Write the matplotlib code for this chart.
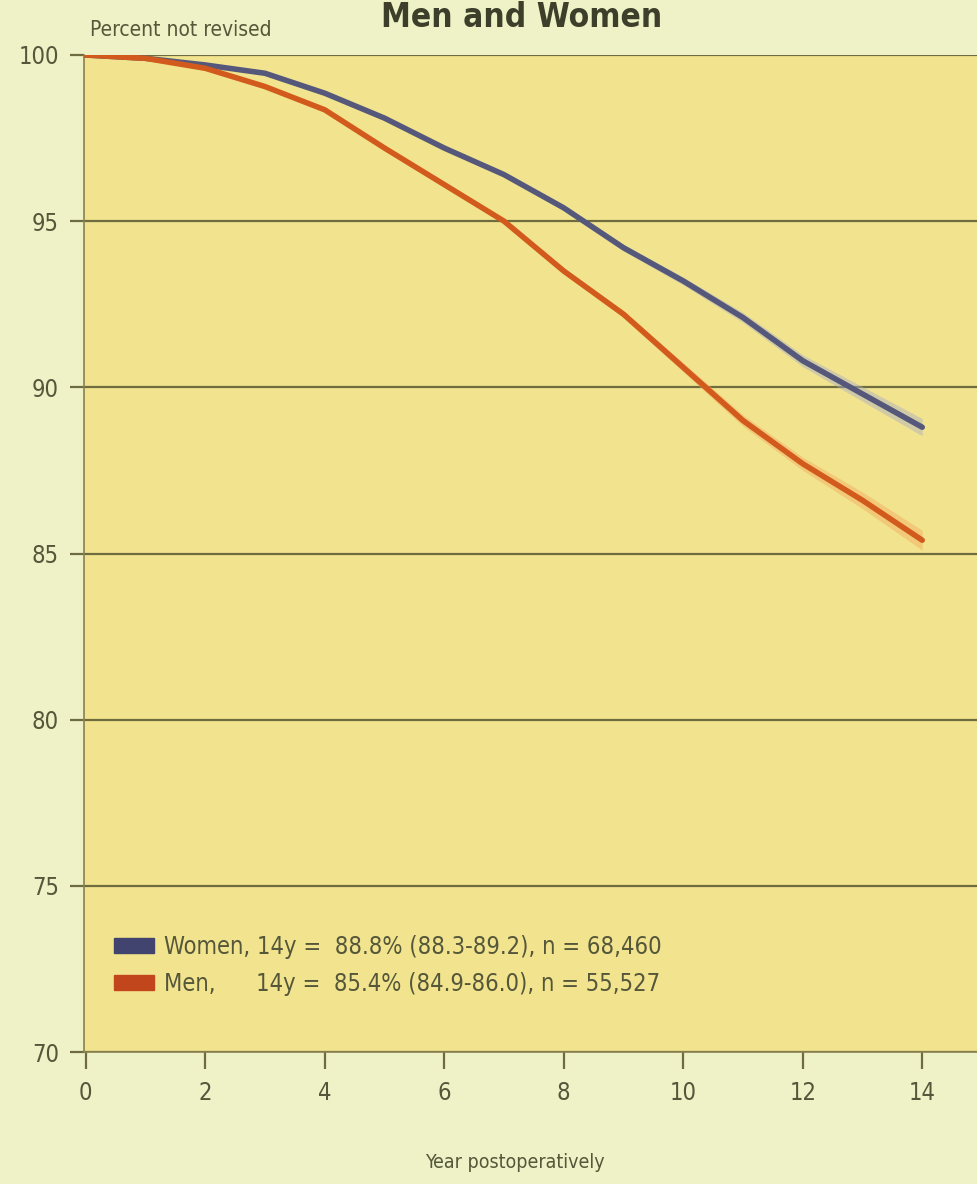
import matplotlib.pyplot as plt
import matplotlib.patches as mpatches
from matplotlib import font_manager

years = [0, 1, 2, 3, 4, 5, 6, 7, 8, 9, 10, 11, 12, 13, 14]
women = [100, 99.9, 99.7, 99.45, 98.85, 98.1, 97.2, 96.4, 95.4, 94.2, 93.2, 92.1, 90.8, 89.8, 88.8]
men = [100, 99.9, 99.6, 99.05, 98.35, 97.2, 96.1, 95.0, 93.5, 92.2, 90.6, 89.0, 87.7, 86.6, 85.4]
# half-width of the faint confidence band around each curve
women_ci = [0, 0, 0.01, 0.02, 0.03, 0.04, 0.05, 0.06, 0.08, 0.1, 0.12, 0.15, 0.18, 0.22, 0.26]
men_ci = [0, 0, 0.01, 0.02, 0.03, 0.04, 0.06, 0.07, 0.09, 0.11, 0.14, 0.17, 0.2, 0.25, 0.3]

y_ticks = [70, 75, 80, 85, 90, 95, 100]
x_ticks = [0, 2, 4, 6, 8, 10, 12, 14]
legend_labels = [
    "Women, 14y =  88.8% (88.3-89.2), n = 68,460",
    "Men,      14y =  85.4% (84.9-86.0), n = 55,527",
]

INK = "#55573a"
BG = "#eef2c6"
PANEL = "#f2e48e"
WOMEN_C = "#55587a"
MEN_C = "#d25a1c"

stretches = {f.stretch for f in font_manager.fontManager.ttflist if f.name == "DejaVu Sans"}
plt.rcParams["font.family"] = ["DejaVu Sans"]
if "condensed" in stretches or 75 in stretches:
    plt.rcParams["font.stretch"] = "condensed"

fig = plt.figure(figsize=(9.77, 11.84), dpi=100, facecolor=BG)
ax = fig.add_axes([84 / 977, 1 - 1052 / 1184, 1 - 84 / 977, (1052 - 55) / 1184])
ax.set_facecolor(PANEL)

lo_w = [v - c for v, c in zip(women, women_ci)]
hi_w = [v + c for v, c in zip(women, women_ci)]
lo_m = [v - c for v, c in zip(men, men_ci)]
hi_m = [v + c for v, c in zip(men, men_ci)]
ax.fill_between(years, lo_w, hi_w, color="#a8acc4", alpha=0.45, lw=0, zorder=2)
ax.fill_between(years, lo_m, hi_m, color="#f2a860", alpha=0.45, lw=0, zorder=2)
ax.plot(years, women, color=WOMEN_C, lw=4, solid_capstyle="round", zorder=3)
ax.plot(years, men, color=MEN_C, lw=4, solid_capstyle="round", zorder=3)

ax.set_xlim(-0.03, (977 - 82) / 60)
ax.set_ylim(70, 100)
ax.set_yticks(y_ticks)
ax.set_xticks(x_ticks)
for y in y_ticks:
    ax.axhline(y, color="#6e6c3e", lw=1.6, zorder=1)

for side in ["top", "right"]:
    ax.spines[side].set_visible(False)
for side in ["left", "bottom"]:
    ax.spines[side].set_color("#8a8050")
    ax.spines[side].set_linewidth(1.2)
ax.tick_params(axis="y", length=10, width=1.6, color="#6e6c3e", labelsize=17,
               labelcolor=INK, pad=8)
ax.tick_params(axis="x", length=12, width=1.6, color="#6e6c3e", labelsize=17,
               labelcolor=INK, pad=9)

handles = [
    mpatches.Patch(color="#40446e", label=legend_labels[0]),
    mpatches.Patch(color="#c2461c", label=legend_labels[1]),
]
leg = ax.legend(handles=handles, loc="lower left", bbox_to_anchor=(0.01, 0.035),
                frameon=False, fontsize=17, handlelength=1.7, handleheight=0.55,
                handletextpad=0.4, labelspacing=0.55)
for t in leg.get_texts():
    t.set_color(INK)

fig.text(90 / 977, 1 - 36 / 1184, "Percent not revised", fontsize=15, color=INK,
         ha="left", va="baseline")
fig.text(522 / 977, 1 - 27 / 1184, "Men and Women", fontsize=24, fontweight="bold",
         color="#3e3f2a", ha="center", va="baseline")
fig.text(515 / 977, 1 - 1168 / 1184, "Year postoperatively", fontsize=14, color=INK,
         ha="center", va="baseline")

fig.savefig("out.png", dpi=100, facecolor=BG)
